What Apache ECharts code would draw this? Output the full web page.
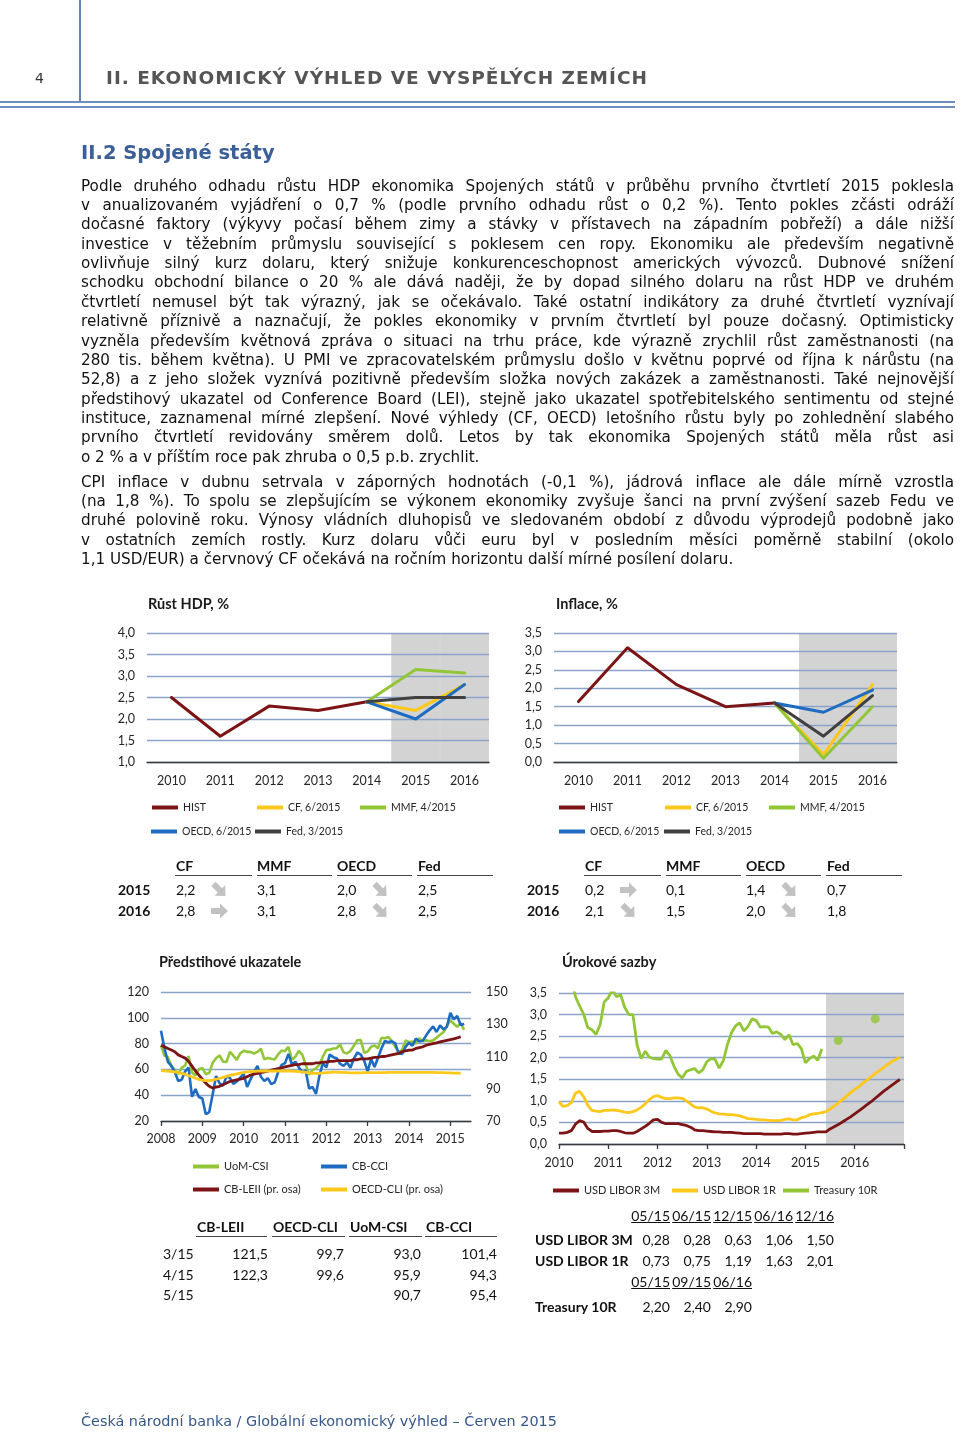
<!DOCTYPE html>
<html><head><meta charset="utf-8">
<script src="https://cdn.jsdelivr.net/npm/echarts@6/dist/echarts.min.js"></script>
<style>
html,body{margin:0;padding:0;background:#fff;}
#page{position:relative;width:960px;height:1433px;overflow:hidden;}
#chart{position:absolute;left:0;top:0;width:960px;height:1433px;}
.t{position:absolute;white-space:nowrap;z-index:2;}
.ln{position:absolute;left:81px;width:873px;font-family:"DejaVu Sans",Verdana,sans-serif;font-size:15.2px;line-height:19px;height:19px;color:#111;text-align:justify;text-align-last:justify;z-index:2;}
.ln.last{text-align-last:left;}
.tb{font-family:Lato,sans-serif;font-size:14px;color:#111;line-height:18px;}
.b{font-weight:bold;}
.ul{position:absolute;height:1px;background:#333;z-index:2;}
.arr{position:absolute;z-index:2;}
</style></head>
<body><div id="page">
<div id="chart"></div>
</div>
<script>
// ---------------- DATA ----------------
const years = ['2010','2011','2012','2013','2014','2015','2016'];
const forecastYears = ['2015','2016'];
const gdpHist = [2.5,1.6,2.3,2.2,2.4,null,null];
const gdpCF   = [null,null,null,null,2.4,2.2,2.8];
const gdpMMF  = [null,null,null,null,2.4,3.15,3.07];
const gdpOECD = [null,null,null,null,2.4,2.0,2.8];
const gdpFed  = [null,null,null,null,2.4,2.5,2.5];
const infHist = [1.64,3.1,2.1,1.5,1.6,null,null];
const infCF   = [null,null,null,null,1.6,0.2,2.1];
const infMMF  = [null,null,null,null,1.6,0.1,1.5];
const infOECD = [null,null,null,null,1.6,1.35,1.95];
const infFed  = [null,null,null,null,1.6,0.7,1.8];
const gdpAxis = {min:1, max:4, step:0.5};
const infAxis = {min:0, max:3.5, step:0.5};

// leading indicators, monthly from 2008-01
const leadStart = [2008,1], leadEnd = [2015,7];
const uomCSI = [78.4,70.8,69.5,62.6,59.8,56.4,61.2,63.0,70.3,57.6,55.3,60.1,
 61.2,56.3,57.3,65.1,68.7,70.8,66.0,65.7,73.5,70.6,67.4,72.5,
 74.4,73.6,73.6,72.2,73.6,76.0,67.8,68.9,68.2,67.7,71.6,74.5,
 74.2,77.5,67.5,69.8,74.3,71.5,63.7,55.8,59.5,60.8,63.7,69.9,
 75.0,75.3,76.2,76.4,79.3,73.2,72.3,74.3,78.3,82.6,82.7,72.9,
 73.8,77.6,78.6,76.4,84.5,84.1,85.1,82.1,77.5,73.2,75.1,82.5,
 81.2,81.6,80.0,84.1,81.9,82.5,81.8,82.5,84.6,86.9,88.8,93.6,
 98.1,95.4,93.0,95.9,90.7];
const cbCCI = [90.0,76.4,65.9,62.8,58.1,51.0,51.9,58.5,61.4,38.8,44.7,38.6,
 37.4,25.3,26.9,40.8,54.8,49.3,47.4,54.5,53.4,48.7,50.6,53.6,
 56.5,46.4,52.3,57.7,62.7,54.3,51.0,53.2,48.6,49.9,57.8,63.4,
 64.8,72.0,63.8,66.0,61.7,57.6,59.2,45.2,46.4,40.9,55.2,64.8,
 61.5,71.6,69.5,68.7,64.4,62.7,65.4,61.3,68.4,73.1,71.5,66.7,
 58.4,68.0,61.9,69.0,76.2,82.1,81.0,81.8,80.2,72.4,72.0,77.5,
 80.7,78.3,83.9,81.7,82.2,86.4,90.3,93.4,89.0,94.1,91.0,93.1,
 103.8,98.8,101.4,94.3,95.4];
const cbLEI = [117,116,115,114,113,111,110,109,107,104,101,98.5,
 96,93.5,91.5,90.5,91,91.5,92.5,93.5,94.5,95,95.5,96,
 96.5,97.5,98.5,99,99.5,100,100.5,101,101.5,102,102.5,103,
 103.5,104,104.5,105,105,105.5,105.5,105.5,105.5,106,106,106.5,
 106.5,107,107,107.5,107.5,107.5,107.5,107.5,108,108,108.5,108.5,
 108.5,109,109.5,109.5,110,110,110.5,111,111.5,112,113,113.5,
 114,114,115,115.5,116,117,117.5,118,118.5,119,119.5,120,
 120.5,121,121.5,122.3];
const oecdCLI = [101.2,101.1,100.9,100.7,100.4,100.0,99.5,99.0,98.2,97.3,96.5,95.8,
 95.3,95.1,95.1,95.4,95.9,96.5,97.1,97.7,98.3,98.8,99.3,99.7,
 100.1,100.4,100.6,100.8,100.9,101.0,101.0,101.0,101.0,101.0,101.0,101.0,
 101.0,101.0,100.9,100.8,100.6,100.4,100.1,99.8,99.6,99.5,99.6,99.8,
 100.0,100.2,100.3,100.3,100.2,100.1,100.0,99.9,99.9,99.9,99.9,100.0,
 100.0,100.0,100.0,100.0,100.0,100.0,100.1,100.1,100.1,100.1,100.1,100.1,
 100.1,100.1,100.1,100.1,100.1,100.1,100.1,100.1,100.0,100.0,100.0,99.9,
 99.8,99.7,99.7,99.6];
const leadLeftAxis = {min:20, max:120, step:20};
const leadRightAxis = {min:70, max:150, step:20};

// interest rates, monthly from 2010-01
const rateStart = [2010,1], rateEnd = [2017,1];
const forecastFrom = '2015-06', forecastTo = '2017-01';
const libor3M = [0.25,0.25,0.27,0.31,0.46,0.54,0.51,0.36,0.29,0.29,0.29,0.30,
 0.30,0.31,0.31,0.29,0.26,0.25,0.25,0.29,0.35,0.41,0.48,0.56,
 0.57,0.50,0.47,0.47,0.47,0.47,0.45,0.43,0.39,0.33,0.31,0.31,
 0.30,0.29,0.28,0.28,0.27,0.27,0.27,0.26,0.25,0.24,0.24,0.24,
 0.24,0.24,0.23,0.23,0.23,0.23,0.23,0.24,0.24,0.23,0.23,0.24,
 0.25,0.26,0.27,0.28,0.28,
 0.28,0.35,0.40,0.45,0.51,0.57,0.63,0.70,0.77,0.84,0.91,0.98,1.06,1.14,1.22,1.29,1.36,1.43,1.50];
const libor1R = [0.98,0.87,0.89,0.96,1.18,1.22,1.10,0.90,0.78,0.76,0.75,0.78,
 0.78,0.79,0.78,0.76,0.74,0.73,0.75,0.79,0.85,0.93,1.03,1.10,
 1.12,1.08,1.05,1.05,1.07,1.07,1.06,1.00,0.93,0.86,0.84,0.84,
 0.81,0.76,0.72,0.70,0.69,0.68,0.68,0.67,0.65,0.62,0.59,0.58,
 0.57,0.56,0.56,0.55,0.54,0.54,0.55,0.57,0.58,0.56,0.56,0.61,
 0.63,0.68,0.70,0.71,0.73,
 0.75,0.81,0.88,0.95,1.03,1.11,1.19,1.26,1.33,1.41,1.48,1.56,1.63,1.70,1.77,1.84,1.91,1.96,2.01];
const treasury10R = [3.73,3.69,3.73,3.85,3.42,3.20,3.01,2.70,2.65,2.54,2.76,3.29,
 3.39,3.58,3.41,3.46,3.17,3.00,3.00,2.30,1.98,2.15,2.01,1.98,
 1.97,1.97,2.17,2.05,1.80,1.62,1.53,1.68,1.72,1.75,1.65,1.72,
 1.91,1.98,1.96,1.76,1.93,2.30,2.58,2.74,2.81,2.62,2.72,2.90,
 2.86,2.71,2.72,2.71,2.56,2.60,2.54,2.42,2.53,2.30,2.33,2.21,
 1.88,1.98,2.04,1.94,2.20];
const treasuryForecast = [['2015-09',2.40],['2016-06',2.90]];
const rateAxis = {min:0, max:3.5, step:0.5};

// tables
const gdpTableCols = ['CF','MMF','OECD','Fed'];
const gdpTableRows = [['2015',['2,2','3,1','2,0','2,5']],['2016',['2,8','3,1','2,8','2,5']]];
const gdpArrows = [['se','se'],['right','se']]; // [row][CF, OECD]
const infTableRows = [['2015',['0,2','0,1','1,4','0,7']],['2016',['2,1','1,5','2,0','1,8']]];
const infArrows = [['right','se'],['se','se']];
const leadTableCols = ['CB-LEII','OECD-CLI','UoM-CSI','CB-CCI'];
const leadTableRows = [['3/15',['121,5','99,7','93,0','101,4']],['4/15',['122,3','99,6','95,9','94,3']],['5/15',['','','90,7','95,4']]];
const rateCols1 = ['05/15','06/15','12/15','06/16','12/16'];
const rateRows1 = [['USD LIBOR 3M',['0,28','0,28','0,63','1,06','1,50']],['USD LIBOR 1R',['0,73','0,75','1,19','1,63','2,01']]];
const rateCols2 = ['05/15','09/15','06/16'];
const rateRows2 = [['Treasury 10R',['2,20','2,40','2,90']]];

// text
const headerTitle = 'II. EKONOMICKÝ VÝHLED VE VYSPĚLÝCH ZEMÍCH';
const sectionTitle = 'II.2 Spojené státy';
const para1 = [
'Podle druhého odhadu růstu HDP ekonomika Spojených států v průběhu prvního čtvrtletí 2015 poklesla',
'v anualizovaném vyjádření o 0,7 % (podle prvního odhadu růst o 0,2 %). Tento pokles zčásti odráží',
'dočasné faktory (výkyvy počasí během zimy a stávky v přístavech na západním pobřeží) a dále nižší',
'investice v těžebním průmyslu související s poklesem cen ropy. Ekonomiku ale především negativně',
'ovlivňuje silný kurz dolaru, který snižuje konkurenceschopnost amerických vývozců. Dubnové snížení',
'schodku obchodní bilance o 20 % ale dává naději, že by dopad silného dolaru na růst HDP ve druhém',
'čtvrtletí nemusel být tak výrazný, jak se očekávalo.  Také ostatní indikátory za druhé čtvrtletí vyznívají',
'relativně příznivě a naznačují, že pokles ekonomiky v prvním čtvrtletí byl pouze dočasný. Optimisticky',
'vyzněla především květnová zpráva o situaci na trhu práce, kde výrazně zrychlil růst zaměstnanosti (na',
'280 tis. během května). U PMI ve zpracovatelském průmyslu došlo v květnu poprvé od října k nárůstu (na',
'52,8) a z jeho složek vyznívá pozitivně především složka nových zakázek a zaměstnanosti. Také nejnovější',
'předstihový ukazatel od Conference Board (LEI), stejně jako ukazatel spotřebitelského sentimentu od stejné',
'instituce, zaznamenal mírné zlepšení. Nové výhledy (CF, OECD) letošního růstu byly po zohlednění slabého',
'prvního čtvrtletí revidovány směrem dolů. Letos by tak ekonomika Spojených států měla růst asi',
'o 2 % a v příštím roce pak zhruba o 0,5 p.b. zrychlit.'];
const para2 = [
'CPI inflace v dubnu setrvala v záporných hodnotách (-0,1 %), jádrová inflace ale dále mírně vzrostla',
'(na 1,8 %). To spolu se zlepšujícím se výkonem ekonomiky zvyšuje šanci na první zvýšení sazeb Fedu ve',
'druhé polovině roku. Výnosy vládních dluhopisů ve sledovaném období z důvodu výprodejů podobně jako',
'v ostatních zemích rostly. Kurz dolaru vůči euru byl v posledním měsíci poměrně stabilní (okolo',
'1,1 USD/EUR) a červnový CF očekává na ročním horizontu další mírné posílení dolaru.'];
const footer = 'Česká národní banka / Globální ekonomický výhled – Červen 2015';

// ---------------- HELPERS ----------------
function months(s, e){ const out=[]; let y=s[0], m=s[1];
  while(y<e[0] || (y===e[0] && m<=e[1])){ out.push(y+'-'+String(m).padStart(2,'0')); m++; if(m>12){m=1;y++;} }
  return out; }
const leadMonths = months(leadStart, leadEnd);
const rateMonths = months(rateStart, rateEnd);
const comma = v => v.toFixed(1).replace('.',',');

const C = {hist:'#7c1416', cf:'#fcc81c', mmf:'#92c637', oecd:'#1d6cc2', fed:'#404040', grid:'#8aa3c8', shade:'#d3d3d3', axis:'#3a3a3a', text:'#262626'};
const FONT = 'Lato, "Open Sans", sans-serif';

// ---------------- HTML TEXT ----------------
const page = document.getElementById('page');
function addText(html, left, cy, css, lh){ lh = lh||18; const d=document.createElement('div'); d.className='t'; d.innerHTML=html;
  d.style.left=left+'px'; d.style.top=(cy-lh/2)+'px'; d.style.lineHeight=lh+'px'; d.style.cssText+=';'+(css||''); page.appendChild(d); return d; }
function addRight(html, right, cy, css){ const d=addText(html, 0, cy, css); d.style.left='auto'; d.style.right=(960-right)+'px'; return d; }
function line(x1,x2,y,h,color){ const d=document.createElement('div'); d.className='ul'; d.style.left=x1+'px'; d.style.width=(x2-x1)+'px'; d.style.top=y+'px'; d.style.height=(h||1)+'px'; if(color) d.style.background=color; page.appendChild(d); }
function vline(x,y1,y2,w,color){ const d=document.createElement('div'); d.className='ul'; d.style.left=x+'px'; d.style.width=(w||1)+'px'; d.style.top=y1+'px'; d.style.height=(y2-y1)+'px'; d.style.background=color; page.appendChild(d); }
function arrow(kind, x, cy){ const d=document.createElement('div'); d.className='arr';
  d.style.left=x+'px'; d.style.top=(cy-9)+'px';
  d.innerHTML='<svg width="19" height="18" viewBox="0 0 19 18"><g transform="'+(kind==='se'?'rotate(45 9.5 9)':'')+'"><polygon points="1,6 10,6 10,1.5 18,9 10,16.5 10,12 1,12" fill="#c2c2c2"/></g></svg>';
  page.appendChild(d); }

// header
vline(79,0,101,1.5,'#5f82b8');
line(0,955,101,2,'#6d8dc0');
line(0,955,106,1.5,'#6d8dc0');
addText('4',35,78,'font-family:"DejaVu Sans",sans-serif;font-size:14px;color:#333;');
addText(headerTitle,106,78,'font-family:"DejaVu Sans",sans-serif;font-weight:bold;font-size:18.5px;color:#555;letter-spacing:1px;',22);
addText(sectionTitle,81,153,'font-family:"DejaVu Sans",sans-serif;font-weight:bold;font-size:19.5px;color:#3b5f97;',24);

function para(lines, y0){ lines.forEach((s,i)=>{ const d=document.createElement('div'); d.className='ln'+(i===lines.length-1?' last':'');
  d.style.top=(y0+i*19.38-9.5)+'px'; const sp=document.createElement('span'); sp.textContent=s; d.appendChild(sp); page.appendChild(d); }); }
para(para1,186);
para(para2,482);
document.querySelectorAll('.ln').forEach(d=>{ const sp=d.firstChild; d.style.whiteSpace='nowrap'; const w=sp.getBoundingClientRect().width; d.style.whiteSpace='normal';
  if(w>872){ const n=(sp.textContent.match(/ /g)||[]).length; d.style.wordSpacing=(-(w-872+0.5)/n)+'px'; } });
addText(footer,81,1421,'font-family:"DejaVu Sans",sans-serif;font-size:14.4px;color:#36578a;');

// forecast tables
function fcTable(x0, rows, arrows){
  const colX=[x0+58, x0+139, x0+219, x0+300];
  const ulx=[[x0+57,x0+134],[x0+139,x0+214],[x0+219,x0+294],[x0+299,x0+375]];
  gdpTableCols.forEach((c,i)=>{ addText(c,colX[i],866).className='t tb b'; line(ulx[i][0],ulx[i][1],875,1,'#444'); });
  rows.forEach((r,ri)=>{ const cy=890+ri*21; addText(r[0],x0,cy).className='t tb b';
    r[1].forEach((v,ci)=>{ addText(v,colX[ci],cy).className='t tb'; });
    arrow(arrows[ri][0], x0+92, cy); arrow(arrows[ri][1], x0+253, cy); });
}
fcTable(118, gdpTableRows, gdpArrows);
fcTable(527, infTableRows, infArrows);

// leading table
(function(){ const hx=[197,273,350,426]; const ul=[[196,267],[272,345],[349,422],[425,497]]; const rx=[268,344,421,497];
  leadTableCols.forEach((c,i)=>{ addText(c,hx[i],1227).className='t tb b'; line(ul[i][0],ul[i][1],1236,1,'#444'); });
  leadTableRows.forEach((r,ri)=>{ const cy=1254+ri*20.5; addText(r[0],163,cy).className='t tb';
    r[1].forEach((v,ci)=>{ if(v) addRight(v,rx[ci],cy).className='t tb'; }); });
})();
// rates table
(function(){ const rx=[670,711,752,793,834];
  rateCols1.forEach((c,i)=>{ addRight('<u>'+c+'</u>',rx[i],1216).className='t tb'; });
  rateRows1.forEach((r,ri)=>{ const cy=1240+ri*21; addText(r[0],535,cy).className='t tb b'; r[1].forEach((v,ci)=>addRight(v,rx[ci],cy).className='t tb'); });
  rateCols2.forEach((c,i)=>{ addRight('<u>'+c+'</u>',rx[i],1282).className='t tb'; });
  rateRows2.forEach((r)=>{ const cy=1307; addText(r[0],535,cy).className='t tb b'; r[1].forEach((v,ci)=>addRight(v,rx[ci],cy).className='t tb'); });
})();

// ---------------- CHART ----------------
const chart = echarts.init(document.getElementById('chart'), null, {renderer:'canvas'});
const lbl = {color:C.text, fontFamily:FONT, fontSize:12.5};
function catX(gi, data, extra){ return Object.assign({gridIndex:gi, type:'category', data:data,
  axisLine:{lineStyle:{color:C.axis, width:1.3}}, axisTick:{length:5, lineStyle:{color:C.axis, width:1.3}},
  axisLabel:Object.assign({margin:12}, lbl), splitLine:{show:false}}, extra||{}); }
function valY(gi, ax, extra){ return Object.assign({gridIndex:gi, type:'value', min:ax.min, max:ax.max, interval:ax.step,
  axisLine:{show:false}, axisTick:{show:false}, axisLabel:Object.assign({margin:12, formatter:v=>String(v)}, lbl),
  splitLine:{lineStyle:{color:C.grid, width:1.3}}}, extra||{}); }
function ln(name, data, color, xi, yi, extra){ return Object.assign({name, type:'line', data, xAxisIndex:xi, yAxisIndex:yi,
  showSymbol:false, symbol:'none', lineStyle:{color, width:3, cap:'round', join:'round'}, itemStyle:{color}, connectNulls:false, silent:true, z:3}, extra||{}); }
function shade(cats, isFc, top, xi, yi){ return {type:'bar', xAxisIndex:xi, yAxisIndex:yi, data:cats.map(c=>isFc(c)?top:null),
  barCategoryGap:'0%', itemStyle:{color:C.shade, borderColor:C.shade, borderWidth:1}, silent:true, z:-1, clip:true}; }
function leg(name, left, cy, fs){ return {left, top:cy-6, padding:0, itemGap:0, itemWidth:26, itemHeight:4, selectedMode:false,
  data:[{name, icon:'rect'}], textStyle:{fontFamily:FONT, fontSize:fs||11, color:C.text}}; }
const ttl = (text,left,cy)=>({text, left, top:cy-8, padding:0, textStyle:{fontFamily:FONT, fontWeight:'bold', fontSize:14.5, color:'#1a1a1a'}});

const option = {
  animation:false,
  title:[ttl('Růst HDP, %',148,605), ttl('Inflace, %',556,605), ttl('Předstihové ukazatele',159,963), ttl('Úrokové sazby',562,963)],
  grid:[{left:147,top:633,width:342,height:129},{left:554,top:633,width:343,height:129},
        {left:161,top:992,width:310,height:129},{left:559,top:993,width:345,height:151}],
  xAxis:[
    catX(0, years, {boundaryGap:true}),
    catX(1, years, {boundaryGap:true}),
    catX(2, leadMonths, {boundaryGap:false, axisTick:{length:5, lineStyle:{color:C.axis,width:1.3}, interval:(i)=>i%12===0},
       axisLabel:Object.assign({margin:11, interval:(i)=>i%12===0, formatter:v=>v.slice(0,4)}, lbl)}),
    catX(3, rateMonths, {boundaryGap:false, axisTick:{length:5, lineStyle:{color:C.axis,width:1.3}, interval:(i)=>i%12===0},
       axisLabel:Object.assign({margin:12, interval:(i)=>i%12===0 && i<rateMonths.length-1, formatter:v=>v.slice(0,4)}, lbl)})
  ],
  yAxis:[
    valY(0, gdpAxis, {axisLabel:Object.assign({margin:12, formatter:comma}, lbl)}),
    valY(1, infAxis, {axisLabel:Object.assign({margin:12, formatter:comma}, lbl)}),
    valY(2, leadLeftAxis),
    valY(2, leadRightAxis, {position:'right', splitLine:{show:false}, axisLabel:Object.assign({margin:15, formatter:v=>String(v)}, lbl)}),
    valY(3, rateAxis, {axisLabel:Object.assign({margin:12, formatter:comma}, lbl)})
  ],
  legend:[
    leg('HIST',152,808,10.5), leg('CF, 6/2015',257,808,10.5), leg('MMF, 4/2015',360,808,10.5), leg('OECD, 6/2015',151,832,10.5), leg('Fed, 3/2015',255,832,10.5),
    leg('HIST',559,808,10.5), leg('CF, 6/2015',665,808,10.5), leg('MMF, 4/2015',769,808,10.5), leg('OECD, 6/2015',559,832,10.5), leg('Fed, 3/2015',664,832,10.5),
    leg('UoM-CSI',193,1167), leg('CB-CCI',321,1167), leg('CB-LEII (pr. osa)',193,1190), leg('OECD-CLI (pr. osa)',321,1190),
    leg('USD LIBOR 3M',553,1191), leg('USD LIBOR 1R',672,1191), leg('Treasury 10R',783,1191)
  ],
  series:[
    shade(years, y=>forecastYears.includes(y), gdpAxis.max, 0, 0),
    ln('HIST', gdpHist, C.hist, 0, 0), ln('CF, 6/2015', gdpCF, C.cf, 0, 0), ln('MMF, 4/2015', gdpMMF, C.mmf, 0, 0),
    ln('OECD, 6/2015', gdpOECD, C.oecd, 0, 0), ln('Fed, 3/2015', gdpFed, C.fed, 0, 0),
    shade(years, y=>forecastYears.includes(y), infAxis.max, 1, 1),
    ln('HIST', infHist, C.hist, 1, 1), ln('CF, 6/2015', infCF, C.cf, 1, 1), ln('MMF, 4/2015', infMMF, C.mmf, 1, 1),
    ln('OECD, 6/2015', infOECD, C.oecd, 1, 1), ln('Fed, 3/2015', infFed, C.fed, 1, 1),
    ln('UoM-CSI', uomCSI, C.mmf, 2, 2, {lineStyle:{color:C.mmf,width:2.6}}),
    ln('CB-CCI', cbCCI, C.oecd, 2, 2, {lineStyle:{color:C.oecd,width:2.6}}),
    ln('CB-LEII (pr. osa)', cbLEI, C.hist, 2, 3, {lineStyle:{color:C.hist,width:2.8}}),
    ln('OECD-CLI (pr. osa)', oecdCLI, C.cf, 2, 3, {lineStyle:{color:C.cf,width:2.8}}),
    ln('USD LIBOR 3M', libor3M, C.hist, 3, 4, {lineStyle:{color:C.hist,width:2.8},
       markArea:{silent:true, z:-1, itemStyle:{color:C.shade, opacity:1}, label:{show:false},
         data:[[{xAxis:forecastFrom},{xAxis:forecastTo}]]}}),
    ln('USD LIBOR 1R', libor1R, C.cf, 3, 4, {lineStyle:{color:C.cf,width:2.8}}),
    ln('Treasury 10R', treasury10R, C.mmf, 3, 4, {lineStyle:{color:C.mmf,width:2.8}}),
    {name:'Treasury 10R', type:'scatter', xAxisIndex:3, yAxisIndex:4, data:treasuryForecast, symbolSize:9, itemStyle:{color:C.mmf}, silent:true, z:3}
  ]
};
chart.setOption(option);
</script>
</body></html>
